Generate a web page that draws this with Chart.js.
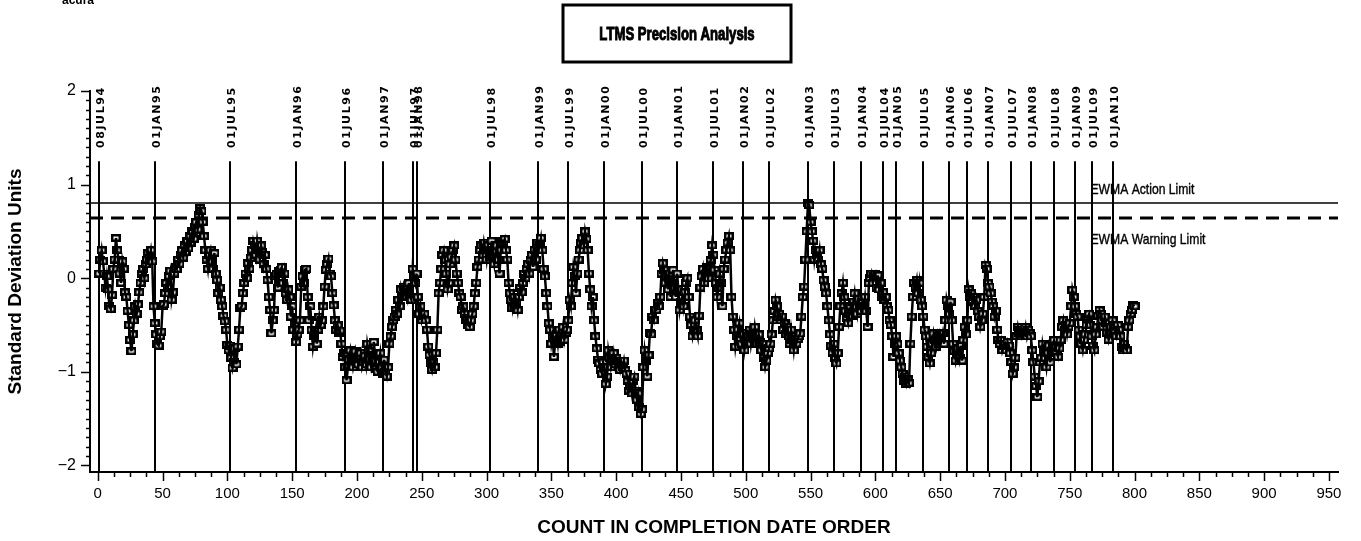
<!DOCTYPE html>
<html>
<head>
<meta charset="utf-8">
<script src="https://cdn.jsdelivr.net/npm/chart.js@4"></script>
<style>
  html, body { margin: 0; padding: 0; background: #fff; }
  canvas { display: block; }
</style>
</head>
<body>
<canvas id="ltms-precision" width="1361" height="541"></canvas>
<script>
// EWMA of standard deviation units, one value per test in completion order (count 1..800)
const sdUnits = [
  0.05, 0.20, 0.30, 0.18, 0.05, -0.10, 0.02, -0.12, -0.30, -0.33,
  -0.18, 0.10, 0.20, 0.43, 0.30, 0.20, 0.05, -0.05, 0.18, 0.10,
  -0.15, -0.20, -0.35, -0.50, -0.66, -0.78, -0.60, -0.45, -0.30, -0.38,
  -0.28, -0.15, -0.05, 0.05, 0.10, 0.00, 0.15, 0.20, 0.27, 0.22,
  0.30, 0.18, -0.30, -0.48, -0.60, -0.70, -0.72, -0.62, -0.57, -0.30,
  -0.28, -0.16, -0.05, -0.10, 0.02, 0.08, -0.23, -0.15, 0.05, 0.12,
  0.10, 0.20, 0.15, 0.25, 0.30, 0.22, 0.35, 0.28, 0.40, 0.32,
  0.45, 0.38, 0.50, 0.42, 0.55, 0.60, 0.52, 0.68, 0.75, 0.72,
  0.60, 0.45, 0.30, 0.20, 0.10, 0.25, 0.30, 0.18, 0.10, 0.27,
  0.05, -0.02, -0.16, -0.10, -0.23, -0.30, -0.40, -0.46, -0.55, -0.71,
  -0.77, -0.72, -0.85, -0.96, -0.90, -0.75, -0.92, -0.73, -0.55, -0.32,
  -0.30, -0.16, -0.05, 0.05, 0.00, 0.16, 0.10, 0.22, 0.30, 0.40,
  0.35, 0.25, 0.40, 0.30, 0.20, 0.35, 0.28, 0.15, 0.25, 0.10,
  -0.02, -0.20, -0.34, -0.59, -0.45, -0.34, 0.02, 0.05, -0.10, 0.08,
  0.09, 0.12, -0.05, 0.05, -0.16, -0.23, -0.12, -0.20, -0.41, -0.30,
  -0.55, -0.48, -0.68, -0.60, -0.55, -0.45, -0.09, 0.02, -0.05, 0.09,
  0.10, -0.20, -0.45, -0.30, -0.55, -0.73, -0.62, -0.55, -0.70, -0.55,
  -0.41, -0.50, -0.45, -0.30, -0.09, 0.09, 0.15, 0.21, 0.05, 0.02,
  -0.16, -0.29, -0.45, -0.55, -0.50, -0.58, -0.56, -0.70, -0.84, -0.80,
  -0.95, -1.09, -0.95, -0.87, -0.77, -0.85, -0.95, -0.88, -0.78, -0.85,
  -0.92, -0.86, -0.80, -0.95, -0.90, -0.83, -0.92, -0.70, -0.78, -0.86,
  -0.95, -0.88, -0.68, -0.82, -0.97, -1.00, -0.90, -0.80, -0.95, -1.02,
  -0.87, -1.00, -1.05, -0.95, -0.70, -0.62, -0.52, -0.45, -0.41, -0.34,
  -0.38, -0.23, -0.30, -0.12, -0.20, -0.09, -0.15, -0.12, -0.20, -0.05,
  -0.20, -0.23, 0.10, 0.02, -0.05, 0.05, -0.20, -0.38, -0.30, -0.45,
  -0.40, -0.38, -0.45, -0.55, -0.73, -0.82, -0.91, -0.98, -0.90, -0.95,
  -0.80, -0.55, -0.16, -0.05, 0.10, 0.25, 0.30, 0.20, 0.05, -0.12,
  -0.05, 0.15, 0.23, 0.30, 0.35, 0.20, 0.05, -0.05, -0.16, -0.20,
  -0.34, -0.30, -0.38, -0.45, -0.42, -0.50, -0.52, -0.45, -0.38, -0.30,
  -0.16, -0.05, 0.12, 0.20, 0.30, 0.35, 0.25, 0.38, 0.30, 0.20,
  0.35, 0.30, 0.23, 0.40, 0.25, 0.15, 0.28, 0.35, 0.20, 0.05,
  0.30, 0.40, 0.38, 0.42, 0.30, 0.20, -0.05, -0.16, -0.23, -0.32,
  -0.20, -0.30, -0.25, -0.34, -0.20, -0.10, -0.15, -0.05, 0.05, 0.00,
  0.10, 0.15, 0.05, 0.20, 0.25, 0.12, 0.30, 0.20, 0.38, 0.30,
  0.35, 0.43, 0.30, 0.10, 0.02, -0.16, -0.30, -0.48, -0.55, -0.70,
  -0.62, -0.84, -0.65, -0.60, -0.70, -0.55, -0.68, -0.62, -0.52, -0.66,
  -0.58, -0.55, -0.45, -0.23, -0.30, -0.05, 0.12, 0.02, -0.16, 0.05,
  0.20, 0.30, 0.38, 0.43, 0.35, 0.50, 0.42, 0.30, 0.05, -0.12,
  -0.30, -0.20, -0.45, -0.62, -0.75, -0.87, -0.91, -0.98, -1.02, -0.90,
  -0.95, -1.13, -1.05, -0.77, -0.85, -0.95, -0.88, -0.80, -0.92, -0.85,
  -0.88, -0.92, -0.98, -0.90, -0.95, -0.88, -0.98, -1.02, -1.10, -1.20,
  -1.15, -1.23, -1.10, -1.05, -1.20, -1.30, -1.23, -1.38, -1.45, -1.40,
  -0.95, -0.77, -0.88, -1.05, -0.82, -0.59, -0.60, -0.41, -0.45, -0.34,
  -0.34, -0.27, -0.30, -0.20, 0.05, 0.16, 0.09, -0.05, 0.02, -0.12,
  0.05, -0.20, -0.05, 0.09, -0.10, -0.20, 0.05, -0.12, -0.34, -0.25,
  -0.20, -0.30, -0.15, -0.05, 0.00, -0.20, -0.41, -0.50, -0.62, -0.55,
  -0.45, -0.55, -0.62, -0.40, -0.10, 0.02, 0.10, -0.05, 0.05, 0.12,
  0.00, 0.10, 0.20, 0.35, 0.25, 0.09, -0.05, -0.20, -0.10, 0.05,
  -0.05, -0.30, 0.10, 0.20, 0.30, 0.38, 0.45, 0.30, -0.20, -0.41,
  -0.55, -0.73, -0.62, -0.55, -0.48, -0.65, -0.70, -0.60, -0.77, -0.68,
  -0.58, -0.62, -0.55, -0.70, -0.60, -0.65, -0.52, -0.62, -0.70, -0.60,
  -0.68, -0.77, -0.70, -0.85, -0.95, -0.88, -0.80, -0.75, -0.70, -0.60,
  -0.45, -0.35, -0.23, -0.30, -0.41, -0.38, -0.45, -0.41, -0.55, -0.48,
  -0.60, -0.52, -0.62, -0.70, -0.55, -0.66, -0.77, -0.62, -0.70, -0.65,
  -0.62, -0.59, -0.41, -0.20, -0.09, 0.20, 0.50, 0.80, 0.78, 0.60,
  0.50, 0.40, 0.20, 0.30, 0.25, 0.20, 0.30, 0.15, 0.10, -0.02,
  -0.09, -0.16, -0.30, -0.45, -0.60, -0.72, -0.80, -0.70, -0.85, -0.91,
  -0.80, -0.52, -0.30, -0.16, -0.05, -0.20, -0.35, -0.42, -0.48, -0.38,
  -0.30, -0.40, -0.25, -0.16, -0.30, -0.38, -0.22, -0.30, -0.35, -0.25,
  -0.30, -0.20, -0.35, -0.52, -0.05, 0.00, 0.05, -0.05, 0.02, 0.05,
  -0.10, 0.03, -0.12, -0.05, -0.20, -0.15, -0.23, -0.20, -0.30, -0.34,
  -0.45, -0.50, -0.62, -0.84, -0.70, -0.62, -0.70, -0.80, -0.88, -0.95,
  -1.02, -1.10, -1.05, -1.13, -1.08, -1.12, -0.70, -0.41, -0.20, -0.05,
  -0.10, -0.02, -0.16, -0.05, -0.23, -0.30, -0.41, -0.55, -0.62, -0.73,
  -0.84, -0.91, -0.80, -0.70, -0.59, -0.66, -0.73, -0.62, -0.70, -0.60,
  -0.66, -0.59, -0.70, -0.45, -0.23, -0.30, -0.38, -0.25, -0.45, -0.70,
  -0.78, -0.88, -0.80, -0.75, -0.85, -0.72, -0.88, -0.66, -0.52, -0.60,
  -0.45, -0.12, -0.20, -0.16, -0.25, -0.20, -0.30, -0.23, -0.35, -0.41,
  -0.52, -0.45, -0.38, -0.20, 0.14, 0.10, -0.05, -0.09, -0.16, -0.25,
  -0.30, -0.41, -0.35, -0.55, -0.66, -0.70, -0.66, -0.77, -0.72, -0.70,
  -0.77, -0.68, -0.72, -0.80, -0.90, -1.02, -0.95, -0.85, -0.62, -0.52,
  -0.59, -0.55, -0.62, -0.58, -0.60, -0.52, -0.62, -0.55, -0.59, -0.62,
  -0.77, -0.90, -1.05, -1.15, -1.27, -1.10, -0.90, -0.85, -0.70, -0.78,
  -0.85, -0.95, -0.80, -0.72, -0.90, -0.78, -0.70, -0.66, -0.72, -0.80,
  -0.84, -0.75, -0.66, -0.52, -0.45, -0.55, -0.50, -0.60, -0.52, -0.48,
  -0.30, -0.125, -0.20, -0.30, -0.38, -0.41, -0.55, -0.62, -0.70, -0.77,
  -0.66, -0.60, -0.50, -0.41, -0.38, -0.50, -0.62, -0.72, -0.77, -0.60,
  -0.52, -0.40, -0.34, -0.38, -0.45, -0.52, -0.41, -0.48, -0.58, -0.66,
  -0.60, -0.52, -0.45, -0.50, -0.58, -0.62, -0.50, -0.55, -0.62, -0.73,
  -0.77, -0.70, -0.75, -0.77, -0.52, -0.45, -0.38, -0.34, -0.29, -0.30
];

// date reference lines (count at which each date starts)
const refLineCounts = [1, 44, 102, 153, 191, 220, 243, 246, 303, 340, 363, 391, 420, 447, 475, 498,
  518, 548, 568, 589, 606, 616, 637, 657, 671, 687, 705, 720, 738, 754, 767, 783];
const refLineLabels = ["08JUL94", "01JAN95", "01JUL95", "01JAN96", "01JUL96", "01JAN97", "01JUL97", "01JAN98",
  "01JUL98", "01JAN99", "01JUL99", "01JAN00", "01JUL00", "01JAN01", "01JUL01", "01JAN02",
  "01JUL02", "01JAN03", "01JUL03", "01JAN04", "01JUL04", "01JAN05", "01JUL05", "01JAN06",
  "01JUL06", "01JAN07", "01JUL07", "01JAN08", "01JUL08", "01JAN09", "01JUL09", "01JAN10"];

const xTickValues = [0, 50, 100, 150, 200, 250, 300, 350, 400, 450, 500, 550, 600, 650, 700, 750, 800, 850, 900, 950];
const yTickValues = [-2, -1, 0, 1, 2];

const actionLimit = 0.8;
const warningLimit = 0.64;

const plain = "'Liberation Sans', Arial, sans-serif";
const wide = "'DejaVu Sans', Verdana, sans-serif";

let points = [];
sdUnits.forEach((v, i) => {
  points.push({ x: i + 1, y: v });
});

// hollow box symbol, a little wider than tall
const marker = document.createElement("canvas");
marker.width = 10;
marker.height = 8;
const mctx = marker.getContext("2d");
mctx.fillStyle = "#fff";
mctx.fillRect(0, 0, 10, 8);
mctx.strokeStyle = "#000";
mctx.lineWidth = 2.5;
mctx.strokeRect(1.25, 1.25, 7.5, 5.5);

// SAS-style narrow lettering: squeeze normal text sideways
function condensedText(ctx, text, x, y, font, squeeze, align, heavy) {
  ctx.save();
  ctx.font = font;
  ctx.textAlign = align;
  ctx.translate(x, y);
  ctx.scale(squeeze, 1);
  ctx.fillText(text, 0, 0);
  if (heavy) {
    ctx.lineWidth = heavy;
    ctx.strokeText(text, 0, 0);
  }
  ctx.restore();
}

const annotations = {
  id: "annotations",
  beforeDatasetsDraw(chart) {
    const { ctx, chartArea, scales } = chart;
    const xs = scales.x;
    const ys = scales.y;
    ctx.save();
    ctx.strokeStyle = "#000";
    ctx.fillStyle = "#000";

    // vertical date lines and their labels
    ctx.lineWidth = 2;
    const lineTop = ys.getPixelForValue(1.25);
    const labelStart = ys.getPixelForValue(1.39);
    ctx.font = "bold 11px " + wide;
    ctx.letterSpacing = "1.6px";
    ctx.textBaseline = "middle";
    ctx.textAlign = "left";
    refLineCounts.forEach((c, i) => {
      const px = Math.round(xs.getPixelForValue(c));
      ctx.beginPath();
      ctx.moveTo(px, lineTop);
      ctx.lineTo(px, chartArea.bottom);
      ctx.stroke();
      ctx.save();
      ctx.translate(px + 2, labelStart);
      ctx.rotate(-Math.PI / 2);
      ctx.fillText(refLineLabels[i], 0, 0);
      ctx.restore();
    });
    ctx.letterSpacing = "0px";

    // EWMA limits
    const ya = Math.round(ys.getPixelForValue(actionLimit));
    const yw = Math.round(ys.getPixelForValue(warningLimit));
    ctx.lineWidth = 1.5;
    ctx.beginPath();
    ctx.moveTo(chartArea.left, ya);
    ctx.lineTo(chartArea.right, ya);
    ctx.stroke();
    ctx.lineWidth = 3;
    ctx.setLineDash([13, 8]);
    ctx.beginPath();
    ctx.moveTo(chartArea.left, yw);
    ctx.lineTo(chartArea.right, yw);
    ctx.stroke();
    ctx.setLineDash([]);

    const lx = xs.getPixelForValue(766);
    ctx.textBaseline = "bottom";
    condensedText(ctx, "EWMA Action Limit", lx, ya - 6, "15px " + plain, 0.81, "left", 0.4);
    ctx.textBaseline = "top";
    condensedText(ctx, "EWMA Warning Limit", lx, yw + 14, "15px " + plain, 0.81, "left", 0.4);
    ctx.restore();
  },
  afterDraw(chart) {
    const { ctx, chartArea, scales } = chart;
    const xs = scales.x;
    const ys = scales.y;
    ctx.save();
    ctx.strokeStyle = "#000";
    ctx.fillStyle = "#000";
    ctx.lineWidth = 1.5;

    // x tick marks, minor every 12.5
    for (let k = 0; k <= 76; k++) {
      const px = Math.round(xs.getPixelForValue(k * 12.5)) + 0.5;
      const len = k % 4 === 0 ? 9 : 5;
      ctx.beginPath();
      ctx.moveTo(px, chartArea.bottom);
      ctx.lineTo(px, chartArea.bottom + len);
      ctx.stroke();
    }
    // y tick marks, minor every 0.1
    for (let k = -20; k <= 20; k++) {
      const py = Math.round(ys.getPixelForValue(k / 10)) + 0.5;
      const len = k % 10 === 0 ? 9 : 4;
      ctx.beginPath();
      ctx.moveTo(chartArea.left, py);
      ctx.lineTo(chartArea.left - len, py);
      ctx.stroke();
    }

    // title in a frame
    const cx = (chartArea.left + chartArea.right) / 2 - 37;
    ctx.lineWidth = 3;
    ctx.strokeRect(cx - 114, 5, 228, 57);
    ctx.textBaseline = "middle";
    condensedText(ctx, "LTMS Precision Analysis", cx, 35, "bold 18px " + plain, 0.73, "center", 1);

    // cut-off text at the top left
    ctx.font = "bold 12px " + plain;
    ctx.textBaseline = "alphabetic";
    ctx.textAlign = "left";
    ctx.fillText("acura", 62, 4);
    ctx.restore();
  }
};

const ctx = document.getElementById("ltms-precision");

new Chart(ctx, {
  type: "line",
  data: {
    datasets: [
      {
        // joining line, drawn over the symbols as in the original plot
        label: "EWMA",
        data: points,
        order: 0,
        borderColor: "#000",
        borderWidth: 2.5,
        pointRadius: 0,
        tension: 0,
      },
      {
        label: "EWMA symbols",
        data: points,
        order: 1,
        showLine: false,
        pointStyle: marker,
        pointRadius: 5,
      },
    ],
  },
  options: {
    responsive: false,
    animation: false,
    devicePixelRatio: 1,
    layout: { padding: { top: 91, right: 23 } },
    plugins: {
      legend: { display: false },
      tooltip: { enabled: false },
    },
    scales: {
      x: {
        type: "linear",
        min: -6,
        max: 957,
        grid: { display: false, drawTicks: false },
        border: { display: true, color: "#000", width: 2 },
        afterBuildTicks: (s) => {
          s.ticks = xTickValues.map((v) => ({ value: v }));
        },
        afterFit: (s) => {
          s.height = 69;
        },
        ticks: {
          color: "#000",
          font: { family: plain, size: 15 },
          padding: 13,
          maxRotation: 0,
          autoSkip: false,
        },
        title: {
          display: true,
          text: "COUNT IN COMPLETION DATE ORDER",
          color: "#000",
          font: { family: plain, size: 19, weight: "bold" },
          padding: { top: 2, bottom: 2 },
        },
      },
      y: {
        type: "linear",
        min: -2.07,
        max: 2,
        grid: { display: false, drawTicks: false },
        border: { display: true, color: "#000", width: 2 },
        afterBuildTicks: (s) => {
          s.ticks = yTickValues.map((v) => ({ value: v }));
        },
        afterFit: (s) => {
          s.width = 90;
        },
        ticks: {
          color: "#000",
          font: { family: plain, size: 16 },
          padding: 14,
          callback: (v) => (v < 0 ? "\u2212" + Math.abs(v) : String(v)),
        },
        title: {
          display: true,
          text: "Standard Deviation Units",
          color: "#000",
          font: { family: plain, size: 19, weight: "bold" },
          padding: { top: 4, bottom: 4 },
        },
      },
    },
  },
  plugins: [annotations],
});
</script>
</body>
</html>
